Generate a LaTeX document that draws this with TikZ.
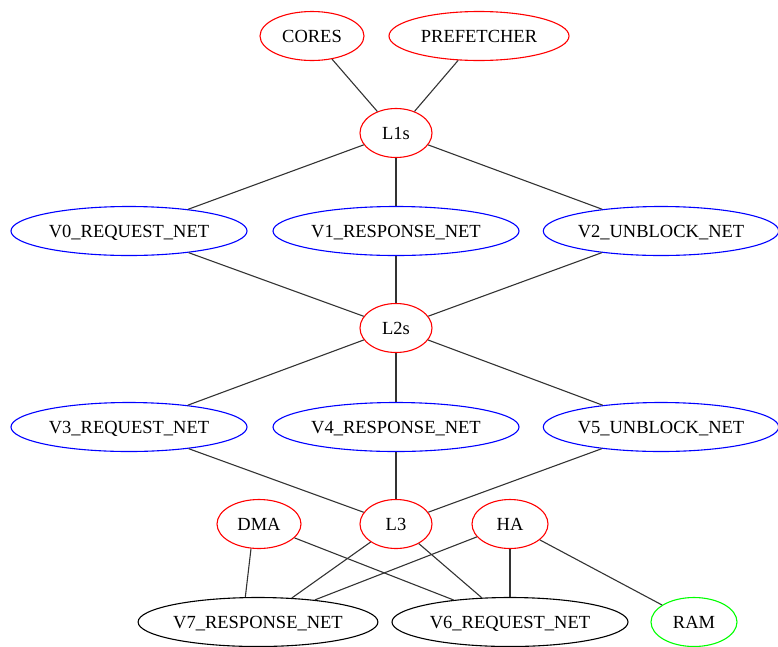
\documentclass[tikz,border=0pt]{standalone}
\usepackage{fontspec}
\setmainfont{Liberation Serif}
\usetikzlibrary{shapes.geometric}
\begin{document}
\begin{tikzpicture}[x=1pt,y=-1pt,
  nd/.style={ellipse,draw,line width=1.1pt,inner sep=0pt,minimum height=49pt,text height=13.5pt,text depth=0pt,font=\fontsize{18.5}{20}\selectfont},
  rn/.style={nd,draw=red},
  bn/.style={nd,draw=blue},
  kn/.style={nd,draw=black},
  gn/.style={nd,draw=green},
  ed/.style={draw=black!80,line width=1.1pt}]
\useasboundingbox (0,0) rectangle (778,646);
\node[rn,minimum width=104pt] (cores) at (312,36) {CORES};
\node[rn,minimum width=180pt] (pref) at (479,36) {PREFETCHER};
\node[rn,minimum width=72pt] (l1) at (396,133) {L1s};
\node[bn,minimum width=236pt] (v0) at (129,231) {V0\_REQUEST\_NET};
\node[bn,minimum width=246pt] (v1) at (396,231) {V1\_RESPONSE\_NET};
\node[bn,minimum width=234pt] (v2) at (661,231) {V2\_UNBLOCK\_NET};
\node[rn,minimum width=72pt] (l2) at (396,328) {L2s};
\node[bn,minimum width=236pt] (v3) at (129,427) {V3\_REQUEST\_NET};
\node[bn,minimum width=246pt] (v4) at (396,427) {V4\_RESPONSE\_NET};
\node[bn,minimum width=234pt] (v5) at (661,427) {V5\_UNBLOCK\_NET};
\node[rn,minimum width=84pt] (dma) at (259,524) {DMA};
\node[rn,minimum width=72pt] (l3) at (396,524) {L3};
\node[rn,minimum width=76pt] (ha) at (510,524) {HA};
\node[kn,minimum width=236pt] (v7) at (258,622) {V7\_RESPONSE\_NET};
\node[kn,minimum width=236pt] (v6) at (510,622) {V6\_REQUEST\_NET};
\node[gn,minimum width=86pt] (ram) at (694,622) {RAM};
\path[ed] (cores) -- (l1);
\path[ed] (pref) -- (l1);
\path[ed] (l1) -- (v0);
\path[ed] (l1) -- (v1);
\path[ed] (l1) -- (v2);
\path[ed] (v0) -- (l2);
\path[ed] (v1) -- (l2);
\path[ed] (v2) -- (l2);
\path[ed] (l2) -- (v3);
\path[ed] (l2) -- (v4);
\path[ed] (l2) -- (v5);
\path[ed] (v3) -- (l3);
\path[ed] (v4) -- (l3);
\path[ed] (v5) -- (l3);
\path[ed] (dma.252) -- (v7.117);
\path[ed] (dma) -- (v6);
\path[ed] (l3) -- (v7);
\path[ed] (l3) -- (v6);
\path[ed] (ha) -- (v7);
\path[ed] (ha) -- (v6);
\path[ed] (ha) -- (ram);
\end{tikzpicture}
\end{document}
